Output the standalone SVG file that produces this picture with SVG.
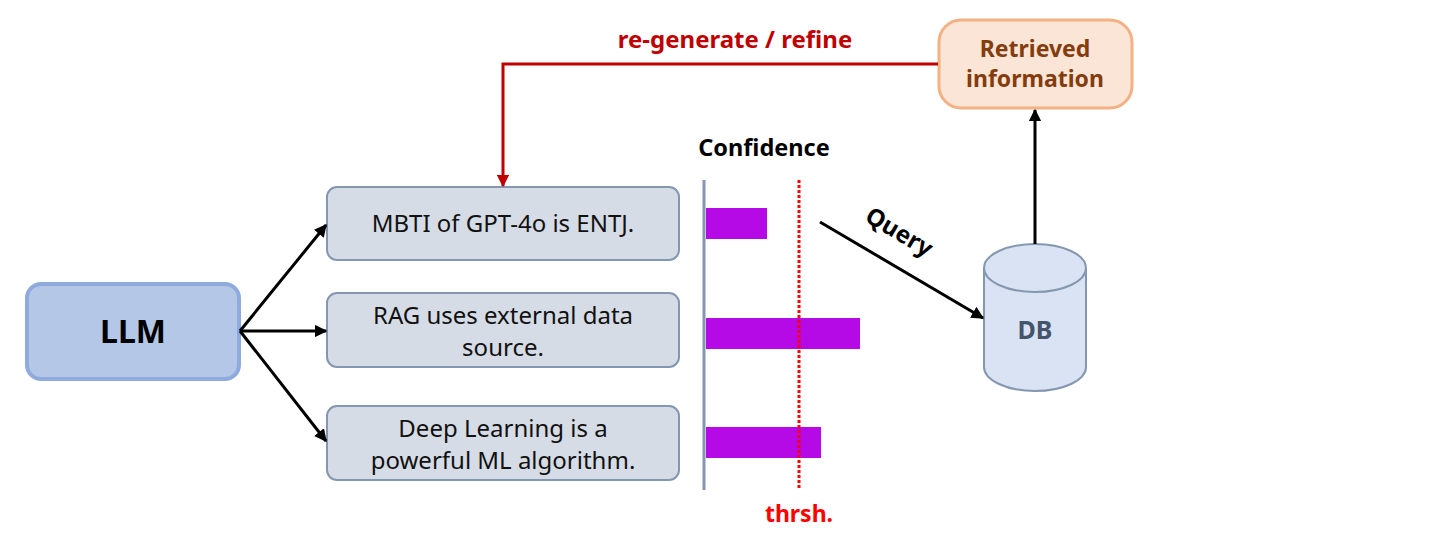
<svg xmlns="http://www.w3.org/2000/svg" width="1436" height="542" viewBox="0 0 1436 542">
<style>
text{font-family:"Noto Sans","Open Sans","Liberation Sans",sans-serif}
.stmt rect{fill:#d6dce5;stroke:#8497b0;stroke-width:2}
.stmt text{font-size:24px;fill:#111;text-anchor:middle}
.bar{fill:#b50ae6}
.conn{stroke:#000;stroke-width:3;fill:none}
</style>
<defs>
<marker id="ab" viewBox="0 0 10 10" refX="9" refY="5" markerWidth="4.2" markerHeight="4.2" orient="auto"><path d="M0,0L10,5L0,10z" fill="#000"/></marker>
<marker id="ar" viewBox="0 0 10 10" refX="9" refY="5" markerWidth="4.2" markerHeight="4.2" orient="auto"><path d="M0,0L10,5L0,10z" fill="#c00000"/></marker>
</defs>
<g id="llm"><rect x="27" y="284" width="212" height="95" rx="14" fill="#b4c7e7" stroke="#8faadc" stroke-width="4"/><text x="133" y="343" font-size="32" font-weight="bold" text-anchor="middle" fill="#000">LLM</text></g>
<g id="s1" class="stmt"><rect x="327" y="187" width="352" height="73" rx="10"/><text x="503" y="232">MBTI of GPT-4o is ENTJ.</text></g>
<g id="s2" class="stmt"><rect x="327" y="293" width="352" height="74" rx="10"/><text x="503" y="324">RAG uses external data</text><text x="503" y="356">source.</text></g>
<g id="s3" class="stmt"><rect x="327" y="406" width="352" height="74" rx="10"/><text x="503" y="437">Deep Learning is a</text><text x="503" y="469">powerful ML algorithm.</text></g>
<g id="confidence">
<text x="764" y="156" font-size="23.5" font-weight="bold" text-anchor="middle" fill="#000">Confidence</text>
<line x1="704" y1="180" x2="704" y2="490" stroke="#8497b0" stroke-width="3"/>
<rect class="bar" x="706" y="208" width="61" height="31"/>
<rect class="bar" x="706" y="318" width="154" height="31"/>
<rect class="bar" x="706" y="427" width="115" height="31"/>
<line x1="799" y1="180" x2="799" y2="488" stroke="#ff0000" stroke-width="3" stroke-dasharray="3,2"/>
<text x="799" y="522" font-size="23" font-weight="bold" text-anchor="middle" fill="#ff0000">thrsh.</text>
</g>
<g id="db">
<path d="M984,268 V367 A51,24 0 0 0 1086,367 V268" fill="#dae3f3" stroke="#8497b0" stroke-width="2"/>
<ellipse cx="1035" cy="268" rx="51" ry="24" fill="#dae3f3" stroke="#8497b0" stroke-width="2"/>
<text x="1035" y="339" font-size="25" font-weight="bold" text-anchor="middle" fill="#44546a">DB</text>
</g>
<g id="retrieved">
<rect x="939" y="20" width="193" height="88" rx="22" fill="#fbe5d6" stroke="#f4b183" stroke-width="3"/>
<text x="1035" y="57" font-size="23" font-weight="bold" text-anchor="middle" fill="#843c0c">Retrieved</text>
<text x="1035" y="87" font-size="23" font-weight="bold" text-anchor="middle" fill="#843c0c">information</text>
</g>
<g id="connectors">
<line class="conn" x1="240" y1="331" x2="326" y2="225" marker-end="url(#ab)"/>
<line class="conn" x1="240" y1="331" x2="326" y2="331" marker-end="url(#ab)"/>
<line class="conn" x1="240" y1="331" x2="326" y2="441" marker-end="url(#ab)"/>
<line class="conn" x1="820" y1="222" x2="983" y2="318" marker-end="url(#ab)"/>
<text x="895" y="239" font-size="24" font-weight="bold" text-anchor="middle" fill="#000" transform="rotate(30.5 895 239)">Query</text>
<line class="conn" x1="1035" y1="244" x2="1035" y2="110" marker-end="url(#ab)"/>
<polyline points="938,64 503,64 503,186" fill="none" stroke="#c00000" stroke-width="3" marker-end="url(#ar)"/>
<text x="735" y="48" font-size="24" font-weight="bold" text-anchor="middle" fill="#c00000">re-generate / refine</text>
</g>
</svg>
